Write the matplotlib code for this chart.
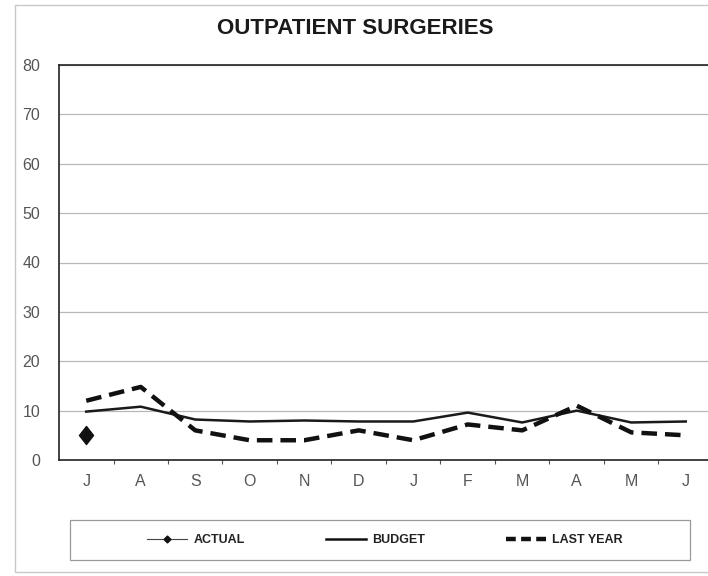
import matplotlib
matplotlib.use("Agg")
import matplotlib.pyplot as plt
from matplotlib.patches import Rectangle
from matplotlib.lines import Line2D
from matplotlib.path import Path

plt.rcParams['font.family'] = ['Liberation Sans', 'DejaVu Sans']

months = ["J", "A", "S", "O", "N", "D", "J", "F", "M", "A", "M", "J"]
actual = [5]
budget = [9.8, 10.8, 8.2, 7.8, 8.0, 7.8, 7.8, 9.6, 7.6, 10.0, 7.6, 7.8]
last_year = [12.0, 14.8, 6.0, 4.0, 4.0, 6.0, 4.0, 7.2, 6.0, 11.0, 5.6, 5.0]
y_ticks = [0, 10, 20, 30, 40, 50, 60, 70, 80]

W, H = 708, 576
fig = plt.figure(figsize=(W / 100, H / 100), dpi=100)
fig.patch.set_facecolor("white")

# light outer frame around the chart area
fig.add_artist(Rectangle((15 / W, 4 / H), 1.2, (H - 9) / H, transform=fig.transFigure,
                         fill=False, edgecolor="#c8c8c8", linewidth=1.0))

ax = fig.add_axes([59 / W, 1 - 460 / H, 654 / W, 395 / H])
x = list(range(len(months)))

ax.set_xlim(-0.5, len(months) - 0.5)
ax.set_ylim(0, 80)
ax.set_yticks(y_ticks)
ax.yaxis.grid(True, color="#b8b8b8", linewidth=0.9)
ax.set_axisbelow(True)
ax.tick_params(axis="y", length=0, pad=13.5, labelsize=11.5, labelcolor="#555555")

ax.set_xticks(x)
ax.set_xticklabels(months)
ax.tick_params(axis="x", length=0, pad=10, labelsize=11.5, labelcolor="#555555")
ax.set_xticks([i + 0.5 for i in range(len(months) - 1)], minor=True)
ax.tick_params(axis="x", which="minor", length=3, color="#555555", width=0.8)

for side in ["left", "top", "bottom"]:
    ax.spines[side].set_color("#222222")
    ax.spines[side].set_linewidth(1.2)
ax.spines["right"].set_visible(False)

diamond = Path([(0, 1), (0.78, 0), (0, -1), (-0.78, 0), (0, 1)],
               [Path.MOVETO, Path.LINETO, Path.LINETO, Path.LINETO, Path.CLOSEPOLY])

ax.plot(x, budget, color="#1a1a1a", linewidth=1.8, zorder=3)
ax.plot(x, last_year, color="#111111", linewidth=3.2, dashes=(3.5, 1.8), zorder=3)
ax.plot(x[:len(actual)], actual, linestyle="none", marker=diamond, markersize=13,
        color="#111111", zorder=4)

fig.text(355 / W, 1 - 28 / H, "OUTPATIENT SURGERIES", ha="center", va="center",
         fontsize=16, fontweight="bold", color="#1a1a1a")

# legend box
fig.add_artist(Rectangle((70 / W, 1 - 560 / H), 620 / W, 40 / H, transform=fig.transFigure,
                         fill=False, edgecolor="#999999", linewidth=0.9))
handles = [
    Line2D([], [], color="#444444", linewidth=0.8, marker="D", markersize=3.5,
           markerfacecolor="#111111", markeredgecolor="#111111"),
    Line2D([], [], color="#111111", linewidth=1.8),
    Line2D([], [], color="#111111", linewidth=3.2, dashes=(2.2, 1.2)),
]
labels = ["ACTUAL", "BUDGET", "LAST YEAR"]
leg = fig.legend(handles, labels, loc="center", bbox_to_anchor=(385 / W, 1 - 540 / H),
                 ncol=3, frameon=False, handlelength=3.2, handletextpad=0.5,
                 columnspacing=6.5, prop={"size": 9, "weight": "bold"})
for t in leg.get_texts():
    t.set_color("#222222")

fig.savefig("out.png", dpi=100, facecolor="white")
